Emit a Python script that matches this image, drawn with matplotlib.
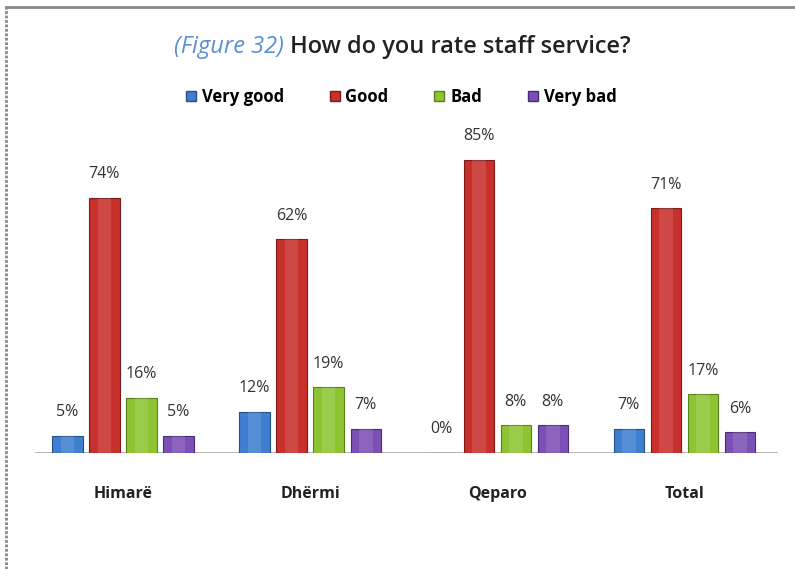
import numpy as np
import matplotlib.pyplot as plt
from matplotlib.lines import Line2D

plt.rcParams['font.family'] = ['Open Sans', 'DejaVu Sans']

places = ["Himarë", "Dhërmi", "Qeparo", "Total"]
ratings = ["Very good", "Good", "Bad", "Very bad"]
very_good = [5, 12, 0, 7]
good = [74, 62, 85, 71]
bad = [16, 19, 8, 17]
very_bad = [5, 7, 8, 6]

face_colors = ["#3f7fd0", "#c8302c", "#8ec431", "#7b4fb5"]
edge_colors = ["#24508a", "#7e1a18", "#5a8019", "#4b2d75"]

fig = plt.figure(figsize=(7.95, 5.69), dpi=100)
ax = fig.add_axes([0.044, 0.2039, 0.9346, 0.606])

x = np.arange(len(places))
step = 0.198
width = 0.162
series = [very_good, good, bad, very_bad]
for i, values in enumerate(series):
    pos = x + (i - 1.5) * step
    ax.bar(pos, values, width, color=face_colors[i], edgecolor=edge_colors[i],
           linewidth=0.8, zorder=3)
    # light band down the middle of each bar for a bit of shine
    ax.bar(pos, values, width * 0.45, color="white", alpha=0.12,
           linewidth=0, zorder=4)
    for px, v in zip(pos, values):
        ax.text(px, v + 4.5, f"{v}%", ha="center", va="bottom",
                fontsize=11.5, color="#333333")

ax.set_xlim(-0.47, 3.5)
ax.set_ylim(0, 100)
ax.axhline(0, color="#aaaaaa", linewidth=1.2, zorder=2)
for s in ax.spines.values():
    s.set_visible(False)
ax.set_yticks([])
ax.set_xticks(x)
ax.set_xticklabels(places, fontsize=11.5, fontweight="bold", color="#222222")
ax.tick_params(axis="x", length=0, pad=24)

# title with the figure number in blue italics
t1 = fig.text(0.219, 0.918, "(Figure 32)", fontsize=17, style="italic",
              color="#5b8fd6", ha="left", va="center")
fig.canvas.draw()
bb = t1.get_window_extent()
fig.text(bb.x1 / fig.bbox.width + 0.007, 0.918, "How do you rate staff service?",
         fontsize=17, fontweight="semibold", color="#222222",
         ha="left", va="center")

handles = [Line2D([], [], marker="s", linestyle="", markersize=7,
                  markerfacecolor=face_colors[i], markeredgecolor=edge_colors[i])
           for i in range(4)]
fig.legend(handles, ratings, loc="center", bbox_to_anchor=(0.503, 0.829), ncol=4,
           frameon=False, prop={"weight": "bold", "size": 12},
           handletextpad=0.2, columnspacing=2.6, handlelength=0.9)

# dotted border along the top and left edges
fig.add_artist(Line2D([0.008, 0.008], [0.0, 0.987], color="#888888",
                      linewidth=2, linestyle=(0, (1, 0.6))))
fig.add_artist(Line2D([0.008, 1.0], [0.987, 0.987], color="#888888",
                      linewidth=2))

fig.savefig("out.png", dpi=100, facecolor="white")
